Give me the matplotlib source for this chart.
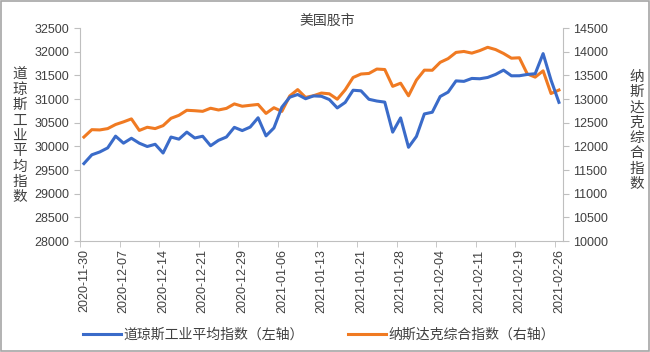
import matplotlib
matplotlib.use('Agg')
import matplotlib.pyplot as plt
from matplotlib.patches import Rectangle

plt.rcParams['font.family'] = ['Liberation Sans', 'Noto Sans CJK SC', 'DejaVu Sans']

# trading days, 2020-11-30 .. 2021-02-26
dates = ['2020-11-30', '2020-12-01', '2020-12-02', '2020-12-03', '2020-12-04',
         '2020-12-07', '2020-12-08', '2020-12-09', '2020-12-10', '2020-12-11',
         '2020-12-14', '2020-12-15', '2020-12-16', '2020-12-17', '2020-12-18',
         '2020-12-21', '2020-12-22', '2020-12-23', '2020-12-24', '2020-12-28',
         '2020-12-29', '2020-12-30', '2020-12-31', '2021-01-04', '2021-01-05',
         '2021-01-06', '2021-01-07', '2021-01-08', '2021-01-11', '2021-01-12',
         '2021-01-13', '2021-01-14', '2021-01-15', '2021-01-19', '2021-01-20',
         '2021-01-21', '2021-01-22', '2021-01-25', '2021-01-26', '2021-01-27',
         '2021-01-28', '2021-01-29', '2021-02-01', '2021-02-02', '2021-02-03',
         '2021-02-04', '2021-02-05', '2021-02-08', '2021-02-09', '2021-02-10',
         '2021-02-11', '2021-02-12', '2021-02-16', '2021-02-17', '2021-02-18',
         '2021-02-19', '2021-02-22', '2021-02-23', '2021-02-24', '2021-02-25',
         '2021-02-26']

dow = [29638.64, 29823.92, 29883.79, 29969.52, 30218.26,
       30069.79, 30173.88, 30068.81, 29999.26, 30046.37,
       29861.55, 30199.31, 30154.54, 30303.37, 30179.05,
       30216.45, 30015.51, 30129.83, 30199.87, 30403.97,
       30335.67, 30409.56, 30606.48, 30223.89, 30391.60,
       30829.40, 31041.13, 31097.97, 31008.69, 31068.69,
       31060.47, 30991.52, 30814.26, 30930.52, 31188.38,
       31176.01, 30996.98, 30960.00, 30937.04, 30303.17,
       30603.36, 29982.62, 30211.91, 30687.48, 30723.60,
       31055.86, 31148.24, 31385.76, 31375.83, 31437.80,
       31430.70, 31458.40, 31522.75, 31613.02, 31493.34,
       31494.32, 31521.69, 31537.35, 31961.86, 31402.01,
       30932.37]

nasdaq = [12198.74, 12355.11, 12349.37, 12377.18, 12464.23,
          12519.95, 12582.77, 12338.95, 12405.81, 12377.87,
          12440.04, 12595.06, 12658.19, 12764.75, 12755.64,
          12742.52, 12807.92, 12771.11, 12804.73, 12899.42,
          12850.22, 12870.00, 12888.28, 12698.45, 12818.96,
          12740.79, 13067.48, 13201.98, 13036.43, 13072.43,
          13128.95, 13112.64, 12998.50, 13197.18, 13457.25,
          13530.92, 13543.06, 13635.99, 13626.06, 13270.60,
          13337.16, 13070.69, 13403.39, 13612.78, 13610.54,
          13777.74, 13856.30, 13987.64, 14007.70, 13972.53,
          14025.77, 14095.47, 14047.50, 13965.50, 13865.36,
          13874.46, 13533.05, 13465.20, 13597.97, 13119.43,
          13192.35]

blue = '#3A6BC9'
orange = '#F07A22'
grey = '#BFBFBF'

fig = plt.figure(figsize=(6.5, 3.52), dpi=100)
ax = fig.add_axes([0.123, 0.315, 0.743, 0.605])
ax2 = ax.twinx()

x = list(range(len(dates)))
l1, = ax.plot(x, dow, color=blue, lw=2.2, solid_joinstyle='round')
l2, = ax2.plot(x, nasdaq, color=orange, lw=2.2, solid_joinstyle='round')
ax.set_zorder(ax2.get_zorder() + 1)
ax.patch.set_visible(False)

ax.set_xlim(-0.5, len(dates) - 0.5)
ax.set_ylim(28000, 32500)
ax2.set_ylim(10000, 14500)
ax.set_yticks(range(28000, 32501, 500))
ax2.set_yticks(range(10000, 14501, 500))

lab_pos = list(range(0, len(dates), 5))
ax.set_xticks(lab_pos)
ax.set_xticklabels([dates[i] for i in lab_pos], rotation=90)
ax.set_xticks([p - 0.5 for p in lab_pos], minor=True)
ax.tick_params(axis='x', which='major', length=0, pad=6, labelsize=9, colors='#404040')
ax.tick_params(axis='x', which='minor', length=4, color=grey)
ax.tick_params(axis='y', length=4, color=grey, labelsize=9, labelcolor='#404040')
ax2.tick_params(axis='y', length=4, color=grey, labelsize=9, labelcolor='#404040')

for a in (ax, ax2):
    a.spines['top'].set_visible(False)
    for s in ('left', 'right', 'bottom'):
        a.spines[s].set_color(grey)
ax.spines['right'].set_visible(False)
ax2.spines['left'].set_visible(False)
ax2.spines['bottom'].set_visible(False)

fig.text(0.030, 0.614, '\n'.join('道琼斯工业平均指数'), ha='center', va='center',
         fontsize=10.5, color='#404040', linespacing=1.12)
fig.text(0.979, 0.630, '\n'.join('纳斯达克综合指数'), ha='center', va='center',
         fontsize=10.5, color='#404040', linespacing=1.12)
fig.text(0.503, 0.942, '美国股市', ha='center', va='center', fontsize=10, color='#404040')

fig.legend([l1, l2], ['道琼斯工业平均指数（左轴）', '纳斯达克综合指数（右轴）'],
           loc='center', bbox_to_anchor=(0.491, 0.05), ncol=2, frameon=False,
           fontsize=10, handlelength=2.7, handletextpad=0.2, columnspacing=3.2,
           labelcolor='#404040')

fig.add_artist(Rectangle((0.001, 0.002), 0.997, 0.995, transform=fig.transFigure,
                         fill=False, edgecolor='#A6A6A6', lw=1.2))

fig.savefig('out.png', dpi=100)
